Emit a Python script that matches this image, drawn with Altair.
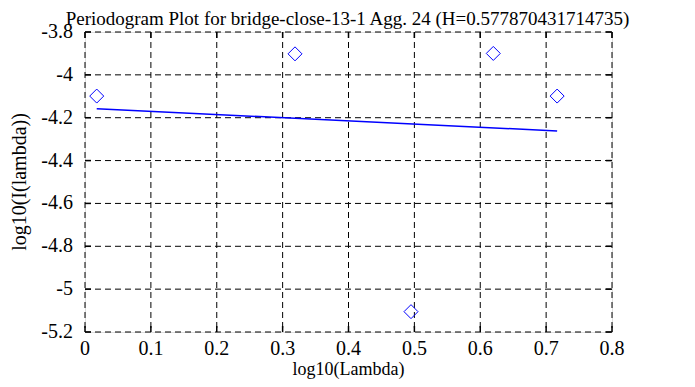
import altair as alt
import pandas as pd

# Periodogram points (log10 lambda, log10 I(lambda))
pt_x = [0.0178, 0.3188, 0.4949, 0.6198, 0.7167]
pt_y = [-4.099, -3.902, -5.105, -3.900, -4.099]

# Fitted line end points
fit_x = [0.0178, 0.7167]
fit_y = [-4.158, -4.262]

x_ticks = [0.0, 0.1, 0.2, 0.3, 0.4, 0.5, 0.6, 0.7, 0.8]
x_labels = ["0", "0.1", "0.2", "0.3", "0.4", "0.5", "0.6", "0.7", "0.8"]
y_ticks = [-3.8, -4.0, -4.2, -4.4, -4.6, -4.8, -5.0, -5.2]
y_labels = ["-3.8", "-4", "-4.2", "-4.4", "-4.6", "-4.8", "-5", "-5.2"]

title = "Periodogram Plot for bridge-close-13-1 Agg. 24 (H=0.577870431714735)"
x_title = "log10(Lambda)"
y_title = "log10(I(lambda))"
FONT = "Liberation Serif"
W, H = 527, 300

pts = pd.DataFrame({"x": pt_x, "y": pt_y})
fit = pd.DataFrame({"x": fit_x, "y": fit_y})
xt = pd.DataFrame({"v": x_ticks, "t": x_labels})
yt = pd.DataFrame({"v": y_ticks, "t": y_labels})

xscale = alt.Scale(domain=[0, 0.8], nice=False, zero=False)
yscale = alt.Scale(domain=[-5.2, -3.8], nice=False, zero=False)


def X(f):
    return alt.X(f, scale=xscale, axis=None)


def Y(f):
    return alt.Y(f, scale=yscale, axis=None)


grid = dict(color="black", strokeWidth=1, strokeDash=[6, 4])
xgrid = alt.Chart(xt).mark_rule(**grid).encode(x=X("v:Q"), y=alt.value(0), y2=alt.value(H))
ygrid = alt.Chart(yt).mark_rule(**grid).encode(y=Y("v:Q"), x=alt.value(0), x2=alt.value(W))

tick_style = dict(color="black", strokeWidth=1.5)
xt_bot = alt.Chart(xt).mark_rule(**tick_style).encode(x=X("v:Q"), y=alt.value(H), y2=alt.value(H - 6))
xt_top = alt.Chart(xt).mark_rule(**tick_style).encode(x=X("v:Q"), y=alt.value(0), y2=alt.value(6))
yt_left = alt.Chart(yt).mark_rule(**tick_style).encode(y=Y("v:Q"), x=alt.value(0), x2=alt.value(6))
yt_right = alt.Chart(yt).mark_rule(**tick_style).encode(y=Y("v:Q"), x=alt.value(W), x2=alt.value(W - 6))

line = alt.Chart(fit).mark_line(color="#0000ff", strokeWidth=1.5).encode(x=X("x:Q"), y=Y("y:Q"))

points = alt.Chart(pts).mark_point(shape="diamond", size=196, filled=False,
                                   color="#0000ff", strokeWidth=1, opacity=1).encode(
    x=X("x:Q"), y=Y("y:Q"))

txt = dict(font=FONT, color="black")
xlab = alt.Chart(xt).mark_text(align="center", baseline="alphabetic", fontSize=20, **txt).encode(
    x=X("v:Q"), y=alt.value(H + 23), text="t:N")
ylab = alt.Chart(yt).mark_text(align="right", baseline="middle", fontSize=20, **txt).encode(
    y=Y("v:Q"), x=alt.value(-12), text="t:N")

xtitle = alt.Chart(pd.DataFrame({"t": [x_title]})).mark_text(
    align="center", baseline="alphabetic", fontSize=18, **txt).encode(
    x=alt.value(W / 2), y=alt.value(H + 43), text="t:N")
ytitle = alt.Chart(pd.DataFrame({"t": [y_title]})).mark_text(
    align="center", baseline="middle", angle=270, fontSize=20, **txt).encode(
    x=alt.value(-65), y=alt.value(150), text="t:N")
ttl = alt.Chart(pd.DataFrame({"t": [title]})).mark_text(
    align="center", baseline="alphabetic", fontSize=19, **txt).encode(
    x=alt.value(W / 2 - 1), y=alt.value(-7), text="t:N")

chart = alt.layer(xgrid, ygrid, xt_bot, xt_top, yt_left, yt_right, line, points,
                  xlab, ylab, xtitle, ytitle, ttl).properties(
    width=W, height=H,
    autosize=alt.AutoSizeParams(type="none"),
    padding={"left": 77, "top": 24, "right": 75, "bottom": 47},
).configure_view(stroke="black", strokeWidth=2).configure(background="white")

chart.save("out.html", embed_options={"renderer": "svg", "actions": False})
